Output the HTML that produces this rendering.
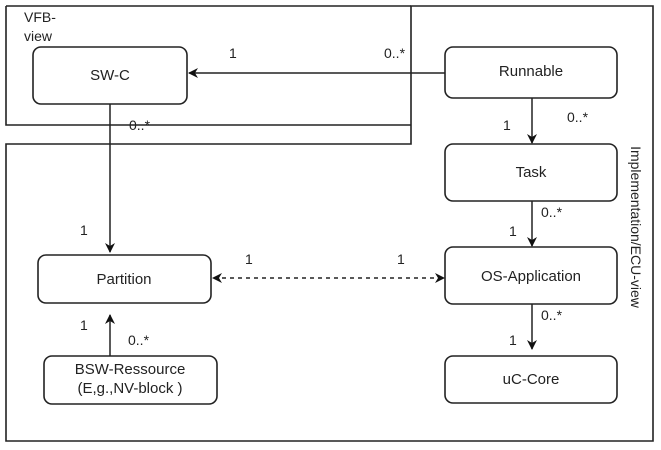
<!DOCTYPE html>
<html><head><meta charset="utf-8"><style>
html,body{margin:0;padding:0;background:#fff;}
svg{display:block;}
text{font-family:"Liberation Sans",sans-serif;font-size:14px;fill:#222;}
text.b{font-size:15px;}
</style></head><body>
<svg width="661" height="450" viewBox="0 0 661 450">
<defs>
<marker id="a" viewBox="0 0 10 10" refX="9" refY="5" markerWidth="10" markerHeight="10" orient="auto" markerUnits="userSpaceOnUse">
<path d="M0,0 L10,5 L0,10 L3,5 Z" fill="#111"/></marker>
</defs>
<g fill="none" stroke="#222" stroke-width="1.6">
<path d="M6,144 L411,144 L411,6 L653,6 L653,441 L6,441 Z"/>
<path d="M6,6 L411,6 M6,6 L6,125 L411,125"/>
<rect x="33" y="47" width="154" height="57" rx="8"/>
<rect x="445" y="47" width="172" height="51" rx="8"/>
<rect x="445" y="144" width="172" height="57" rx="8"/>
<rect x="445" y="247" width="172" height="57" rx="8"/>
<rect x="445" y="356" width="172" height="47" rx="8"/>
<rect x="38" y="255" width="173" height="48" rx="8"/>
<rect x="44" y="356" width="173" height="48" rx="8"/>
</g>
<g stroke="#222" stroke-width="1.5" fill="none">
<line x1="445" y1="73" x2="189" y2="73" marker-end="url(#a)"/>
<line x1="110" y1="104" x2="110" y2="252" marker-end="url(#a)"/>
<line x1="110" y1="356" x2="110" y2="315" marker-end="url(#a)"/>
<line x1="532" y1="98" x2="532" y2="143" marker-end="url(#a)"/>
<line x1="532" y1="201" x2="532" y2="246" marker-end="url(#a)"/>
<line x1="532" y1="304" x2="532" y2="349" marker-end="url(#a)"/>
<line x1="214" y1="278" x2="443" y2="278" stroke-dasharray="4,4"/>
</g>
<path d="M212,278 L222,273 L219,278 L222,283 Z" fill="#111"/>
<path d="M445,278 L435,273 L438,278 L435,283 Z" fill="#111"/>
<text x="24" y="22">VFB-</text>
<text x="24" y="41">view</text>
<text class="b" x="110" y="80" text-anchor="middle">SW-C</text>
<text class="b" x="531" y="76" text-anchor="middle">Runnable</text>
<text class="b" x="531" y="177" text-anchor="middle">Task</text>
<text class="b" x="531" y="281" text-anchor="middle">OS-Application</text>
<text class="b" x="531" y="384" text-anchor="middle">uC-Core</text>
<text class="b" x="124" y="284" text-anchor="middle">Partition</text>
<text class="b" x="130" y="374" text-anchor="middle">BSW-Ressource</text>
<text class="b" x="130" y="393" text-anchor="middle">(E,g.,NV-block )</text>
<text x="229" y="58">1</text>
<text x="384" y="58">0..*</text>
<text x="129" y="130">0..*</text>
<text x="503" y="130">1</text>
<text x="567" y="122">0..*</text>
<text x="541" y="217">0..*</text>
<text x="509" y="236">1</text>
<text x="80" y="235">1</text>
<text x="245" y="264">1</text>
<text x="397" y="264">1</text>
<text x="541" y="320">0..*</text>
<text x="509" y="345">1</text>
<text x="80" y="330">1</text>
<text x="128" y="345">0..*</text>
<text transform="translate(631,227) rotate(90)" text-anchor="middle">Implementation/ECU-view</text>
</svg>
</body></html>
